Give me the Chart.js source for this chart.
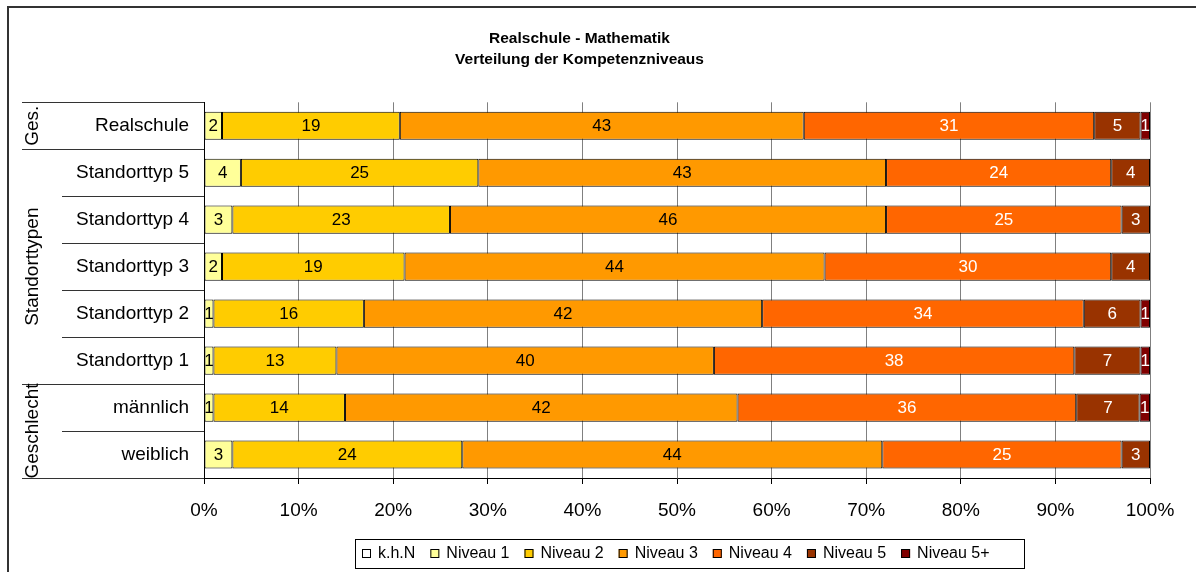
<!DOCTYPE html>
<html>
<head>
<meta charset="utf-8">
<script src="https://cdn.jsdelivr.net/npm/chart.js@4"></script>
<style>
    body { margin: 0; background: #fff; }
</style>
</head>
<body>
<canvas id="chart" width="1196" height="572"></canvas>
<script>
const categories = ['Realschule', 'Standorttyp 5', 'Standorttyp 4', 'Standorttyp 3', 'Standorttyp 2', 'Standorttyp 1', 'männlich', 'weiblich'];
const levels = ['k.h.N', 'Niveau 1', 'Niveau 2', 'Niveau 3', 'Niveau 4', 'Niveau 5', 'Niveau 5+'];

// percentages per row (labels are rounded)
const khn = [0, 0, 0, 0, 0, 0, 0, 0];
const niveau1 = [1.9, 3.9, 3.0, 1.9, 1.0, 1.0, 1.0, 3.0];
const niveau2 = [18.8, 25.1, 23.0, 19.3, 15.9, 13.0, 13.9, 24.3];
const niveau3 = [42.7, 43.1, 46.1, 44.4, 42.1, 39.9, 41.5, 44.4];
const niveau4 = [30.7, 23.8, 24.9, 30.3, 34.0, 38.1, 35.8, 25.3];
const niveau5 = [4.9, 4.1, 3.0, 4.1, 6.0, 7.0, 6.7, 3.0];
const niveau5plus = [1.0, 0, 0, 0, 1.0, 1.0, 1.1, 0];

const groups = [
    { label: 'Ges.', from: 0, to: 0 },
    { label: 'Standorttypen', from: 1, to: 5 },
    { label: 'Geschlecht', from: 6, to: 7 }
];

const colors = ['#FFFFFF', '#FFFF99', '#FFCC00', '#FF9900', '#FF6600', '#993300', '#800000'];
const labelColors = ['#000', '#000', '#000', '#000', '#fff', '#fff', '#fff'];
const FONT = "'Liberation Sans', Arial, sans-serif";

const series = [khn, niveau1, niveau2, niveau3, niveau4, niveau5, niveau5plus];

const datasets = series.map((data, i) => ({
    label: levels[i],
    data: data,
    backgroundColor: colors[i],
    borderColor: '#000',
    borderWidth: 1,
    borderSkipped: false,
    barPercentage: 0.6,
    categoryPercentage: 1
}));

// frame, left-hand category grouping, bar value labels and the boxed legend
const decorations = {
    id: 'decorations',
    beforeDraw(chart) {
        const ctx = chart.ctx;
        ctx.save();
        ctx.strokeStyle = '#333';
        ctx.lineWidth = 2;
        ctx.beginPath();
        ctx.moveTo(8, 572);
        ctx.lineTo(8, 7);
        ctx.lineTo(1196, 7);
        ctx.stroke();
        ctx.restore();
    },
    afterDatasetsDraw(chart) {
        const ctx = chart.ctx;
        ctx.save();
        ctx.font = '17px ' + FONT;
        ctx.textAlign = 'center';
        ctx.textBaseline = 'middle';
        chart.data.datasets.forEach((ds, i) => {
            const meta = chart.getDatasetMeta(i);
            meta.data.forEach((bar, j) => {
                const v = ds.data[j];
                if (!v) return;
                ctx.fillStyle = labelColors[i];
                ctx.fillText(Math.round(v), (bar.x + bar.base) / 2, bar.y + 1);
            });
        });
        ctx.restore();
    },
    afterDraw(chart) {
        const ctx = chart.ctx;
        const y = chart.scales.y;
        const left = chart.chartArea.left;
        const half = (y.getPixelForValue(1) - y.getPixelForValue(0)) / 2;
        ctx.save();
        ctx.strokeStyle = '#333';
        ctx.lineWidth = 1;
        ctx.beginPath();
        for (let i = 0; i <= categories.length; i++) {
            const py = Math.round(y.getPixelForValue(i) - half) + 0.5;
            const boundary = groups.some(g => g.from === i) || i === categories.length;
            ctx.moveTo(boundary ? 22 : 62, py);
            ctx.lineTo(left, py);
        }
        ctx.stroke();

        ctx.fillStyle = '#000';
        ctx.font = '19px ' + FONT;
        ctx.textAlign = 'center';
        ctx.textBaseline = 'middle';
        groups.forEach(g => {
            const cy = (y.getPixelForValue(g.from) + y.getPixelForValue(g.to)) / 2;
            ctx.save();
            ctx.translate(33, cy);
            ctx.rotate(-Math.PI / 2);
            ctx.fillText(g.label, 0, 0);
            ctx.restore();
        });

        // legend
        const ly = 554;
        let lx = 362;
        ctx.font = '16px ' + FONT;
        ctx.textAlign = 'left';
        ctx.strokeStyle = '#000';
        chart.data.datasets.forEach(ds => {
            ctx.fillStyle = ds.backgroundColor;
            ctx.fillRect(lx, ly - 5, 9, 9);
            ctx.strokeRect(lx + 0.5, ly - 4.5, 8, 8);
            ctx.fillStyle = '#000';
            ctx.fillText(ds.label, lx + 16, ly);
            lx += 16 + ctx.measureText(ds.label).width + 15;
        });
        ctx.strokeRect(355.5, 539.5, 669, 29);
        ctx.restore();
    }
};

new Chart(document.getElementById('chart'), {
    type: 'bar',
    data: {
        labels: categories,
        datasets: datasets
    },
    options: {
        indexAxis: 'y',
        responsive: false,
        animation: false,
        layout: {
            padding: { left: 9, right: 46, top: 0, bottom: 53 }
        },
        scales: {
            x: {
                stacked: true,
                min: 0,
                max: 100,
                ticks: {
                    stepSize: 10,
                    padding: 15,
                    color: '#000',
                    font: { family: FONT, size: 19 },
                    callback: v => v + '%'
                },
                grid: {
                    color: '#808080',
                    tickColor: '#000',
                    tickLength: 6
                },
                border: { color: '#000' },
                afterFit(scale) { scale.height = 41; }
            },
            y: {
                stacked: true,
                ticks: {
                    padding: 15,
                    color: '#000',
                    font: { family: FONT, size: 19 }
                },
                grid: { display: false, drawTicks: false },
                border: { color: '#000' },
                afterFit(scale) { scale.width = 195; }
            }
        },
        plugins: {
            title: {
                display: true,
                text: ['Realschule - Mathematik', 'Verteilung der Kompetenzniveaus'],
                color: '#000',
                font: { family: FONT, size: 15.5, weight: 'bold', lineHeight: 1.3 },
                padding: { top: 29, bottom: 33 }
            },
            legend: { display: false },
            tooltip: { enabled: false }
        }
    },
    plugins: [decorations]
});
</script>
</body>
</html>
